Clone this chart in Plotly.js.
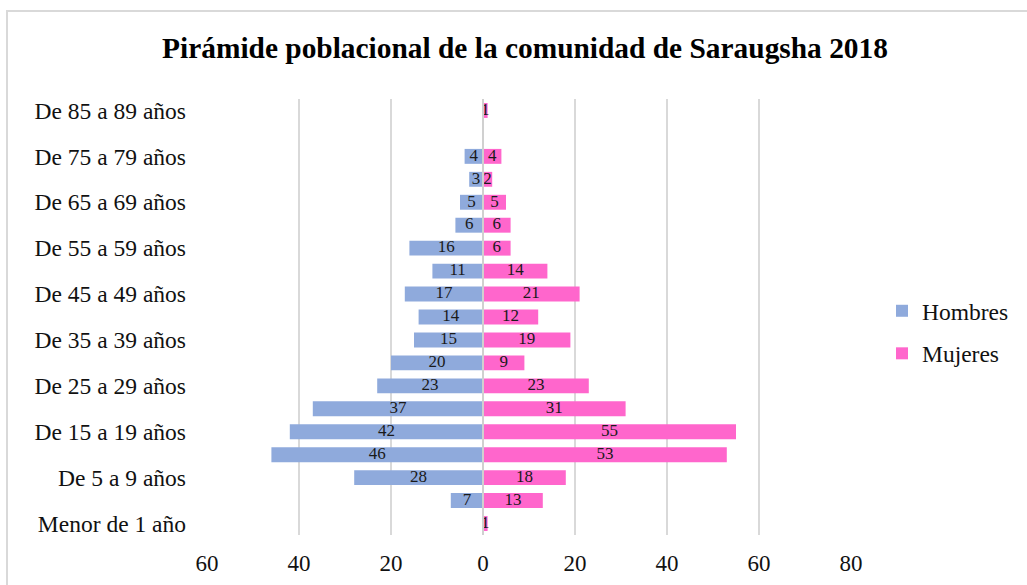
<!DOCTYPE html>
<html>
<head>
<meta charset="utf-8">
<script src="https://cdn.plot.ly/plotly-3.0.1.min.js"></script>
<style>
  html, body { margin: 0; padding: 0; background: #fff; }
  #chart { position: absolute; left: 0; top: 0; width: 1027px; height: 585px; }
  #frame { position: absolute; left: 6px; top: 10px; width: 1100px; height: 700px;
           border: 2px solid #d9d9d9; pointer-events: none; box-sizing: border-box; }
</style>
</head>
<body>
<div id="frame"></div>
<div id="chart"></div>
<script>
const categories = [
  "Menor de 1 año", "De 1 a 4 años", "De 5 a 9 años", "De 10 a 14 años",
  "De 15 a 19 años", "De 20 a 24 años", "De 25 a 29 años", "De 30 a 34 años",
  "De 35 a 39 años", "De 40 a 44 años", "De 45 a 49 años", "De 50 a 54 años",
  "De 55 a 59 años", "De 60 a 64 años", "De 65 a 69 años", "De 70 a 74 años",
  "De 75 a 79 años", "De 80 a 84 años", "De 85 a 89 años"
];
const hombres = [null, 7, 28, 46, 42, 37, 23, 20, 15, 14, 17, 11, 16, 6, 5, 3, 4, null, null];
const mujeres = [1, 13, 18, 53, 55, 31, 23, 9, 19, 12, 21, 14, 6, 6, 5, 2, 4, null, 1];
const xTickVals = [-60, -40, -20, 0, 20, 40, 60, 80];
const xTickText = ["60", "40", "20", "0", "20", "40", "60", "80"];
const shownCategoryLabels = categories.filter((c, i) => i % 2 === 0);

const FONT = "Liberation Serif, Times New Roman, serif";
const blue = "#8faadc";
const pink = "#ff66cc";

const traces = [
  {
    type: "bar", orientation: "h", name: "Hombres",
    y: categories, x: hombres.map(v => v == null ? null : -v),
    marker: { color: blue }, hoverinfo: "skip", legendgroup: "h"
  },
  {
    type: "bar", orientation: "h", name: "Mujeres",
    y: categories, x: mujeres,
    marker: { color: pink }, hoverinfo: "skip", legendgroup: "m"
  },
  {
    type: "scatter", mode: "text", showlegend: false, hoverinfo: "skip",
    y: categories, x: hombres.map(v => v == null ? null : -v / 2),
    text: hombres.map(v => v == null ? "" : String(v)),
    textfont: { family: FONT, size: 17, color: "#1a1a1a" }
  },
  {
    type: "scatter", mode: "text", showlegend: false, hoverinfo: "skip",
    y: categories, x: mujeres.map(v => v == null ? null : v / 2),
    text: mujeres.map(v => v == null ? "" : String(v)),
    textfont: { family: FONT, size: 17, color: "#1a1a1a" }
  }
];

const layout = {
  width: 1027, height: 585,
  margin: { l: 207, r: 176, t: 99, b: 50, pad: 0, autoexpand: false },
  paper_bgcolor: "rgba(0,0,0,0)",
  plot_bgcolor: "#ffffff",
  barmode: "overlay",
  bargap: 0.35,
  font: { family: FONT, size: 23.5, color: "#111" },
  title: {
    text: "<b>Pirámide poblacional de la comunidad de Saraugsha 2018</b>",
    font: { family: FONT, size: 29.4, color: "#000" },
    x: 525 / 1027, xanchor: "center", xref: "container",
    y: 1 - 48 / 585, yanchor: "middle", yref: "container"
  },
  xaxis: {
    range: [-60, 80], tickvals: xTickVals, ticktext: xTickText,
    showgrid: true, gridcolor: "#d9d9d9", gridwidth: 1.5,
    zeroline: false, showline: false, ticks: "",
    tickfont: { family: FONT, size: 23, color: "#111" },
    ticklabelstandoff: 12, fixedrange: true, automargin: false
  },
  yaxis: {
    type: "category", categoryorder: "array", categoryarray: categories,
    range: [-0.5, categories.length - 0.5], autorange: false,
    tickmode: "array", tickvals: shownCategoryLabels, ticktext: shownCategoryLabels,
    showgrid: false, zeroline: false, showline: false, ticks: "",
    tickfont: { family: FONT, size: 23.5, color: "#111" },
    ticklabelstandoff: 20, fixedrange: true, automargin: false
  },
  shapes: [{
    type: "line", xref: "x", yref: "paper", x0: 0, x1: 0, y0: 0, y1: 1,
    line: { color: "#d0d0d0", width: 2 }, layer: "above"
  }],
  showlegend: true,
  legend: {
    x: (882 - 207) / 644, xanchor: "left",
    y: (535 - 332.5) / 436, yanchor: "middle",
    font: { family: FONT, size: 23.5, color: "#111" },
    tracegroupgap: 9, traceorder: "grouped",
    bgcolor: "rgba(0,0,0,0)"
  }
};

Plotly.newPlot("chart", traces, layout, { displayModeBar: false, staticPlot: true });
</script>
</body>
</html>
